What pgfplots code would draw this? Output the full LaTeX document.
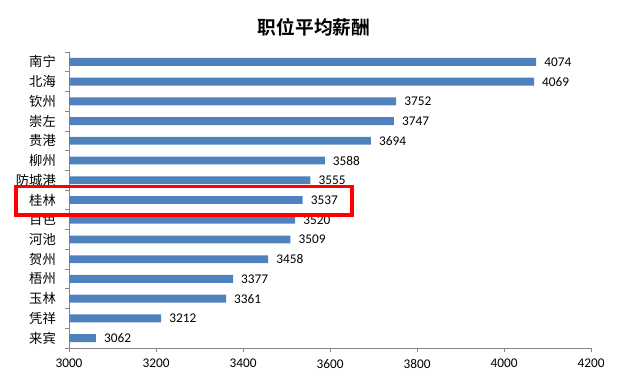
\documentclass[border=0pt]{standalone}
\usepackage{pgfplots}
\pgfplotsset{compat=1.18}
\usepackage{fontspec}
\setmainfont{Carlito}
\newfontfamily\cjk{Noto Sans CJK SC}
\newfontfamily\cjkb{Noto Sans CJK SC Bold}
\definecolor{barblue}{HTML}{4F81BD}
\definecolor{axgray}{HTML}{868686}
\begin{document}
\begin{tikzpicture}[x=1bp,y=1bp]
\useasboundingbox (0,0) rectangle (619,382);
\begin{axis}[
  at={(69bp,34bp)}, anchor=south west,
  scale only axis, width=522bp, height=296bp,
  xbar, bar width=7.9bp,
  xmin=3000, xmax=4200, ymin=-0.5, ymax=14.5,
  axis lines=left,
  axis line style={draw=axgray, line width=0.8bp, -},
  xtick={3000,3200,...,4200},
  ytick={-0.5,0.5,...,14.5},
  yticklabels={},
  extra y ticks={0,...,14},
  extra y tick labels={来宾,凭祥,玉林,梧州,贺州,河池,百色,桂林,防城港,柳州,贵港,崇左,钦州,北海,南宁},
  extra y tick style={major tick length=0pt,
     yticklabel style={font=\cjk\fontsize{13.3bp}{16bp}\selectfont, inner sep=0pt, xshift=-13bp}},
  tick align=outside,
  major tick length=4bp,
  every tick/.style={draw=axgray, line width=0.8bp},
  /pgf/number format/.cd, 1000 sep={}, assume math mode=true,
  /pgfplots/.cd,
  xticklabel style={font=\fontsize{13.3bp}{16bp}\selectfont, inner sep=0pt, yshift=-7bp},
  nodes near coords,
  every node near coord/.append style={font=\fontsize{13.3bp}{16bp}\selectfont, anchor=west, inner sep=0pt, xshift=8bp, text=black},
]
\addplot[fill=barblue, draw=none] coordinates {
  (3062,0) (3212,1) (3361,2) (3377,3) (3458,4) (3509,5) (3520,6) (3537,7)
  (3555,8) (3588,9) (3694,10) (3747,11) (3752,12) (4069,13) (4074,14)
};
\coordinate (ra) at (axis cs:2878,6.25);
\coordinate (rb) at (axis cs:3650,7.69);
\end{axis}
\draw[red, line width=3.6bp] (ra) rectangle (rb);
\node[font=\cjkb\fontsize{18.7bp}{22bp}\selectfont] at (314,355) {职位平均薪酬};
\end{tikzpicture}
\end{document}
